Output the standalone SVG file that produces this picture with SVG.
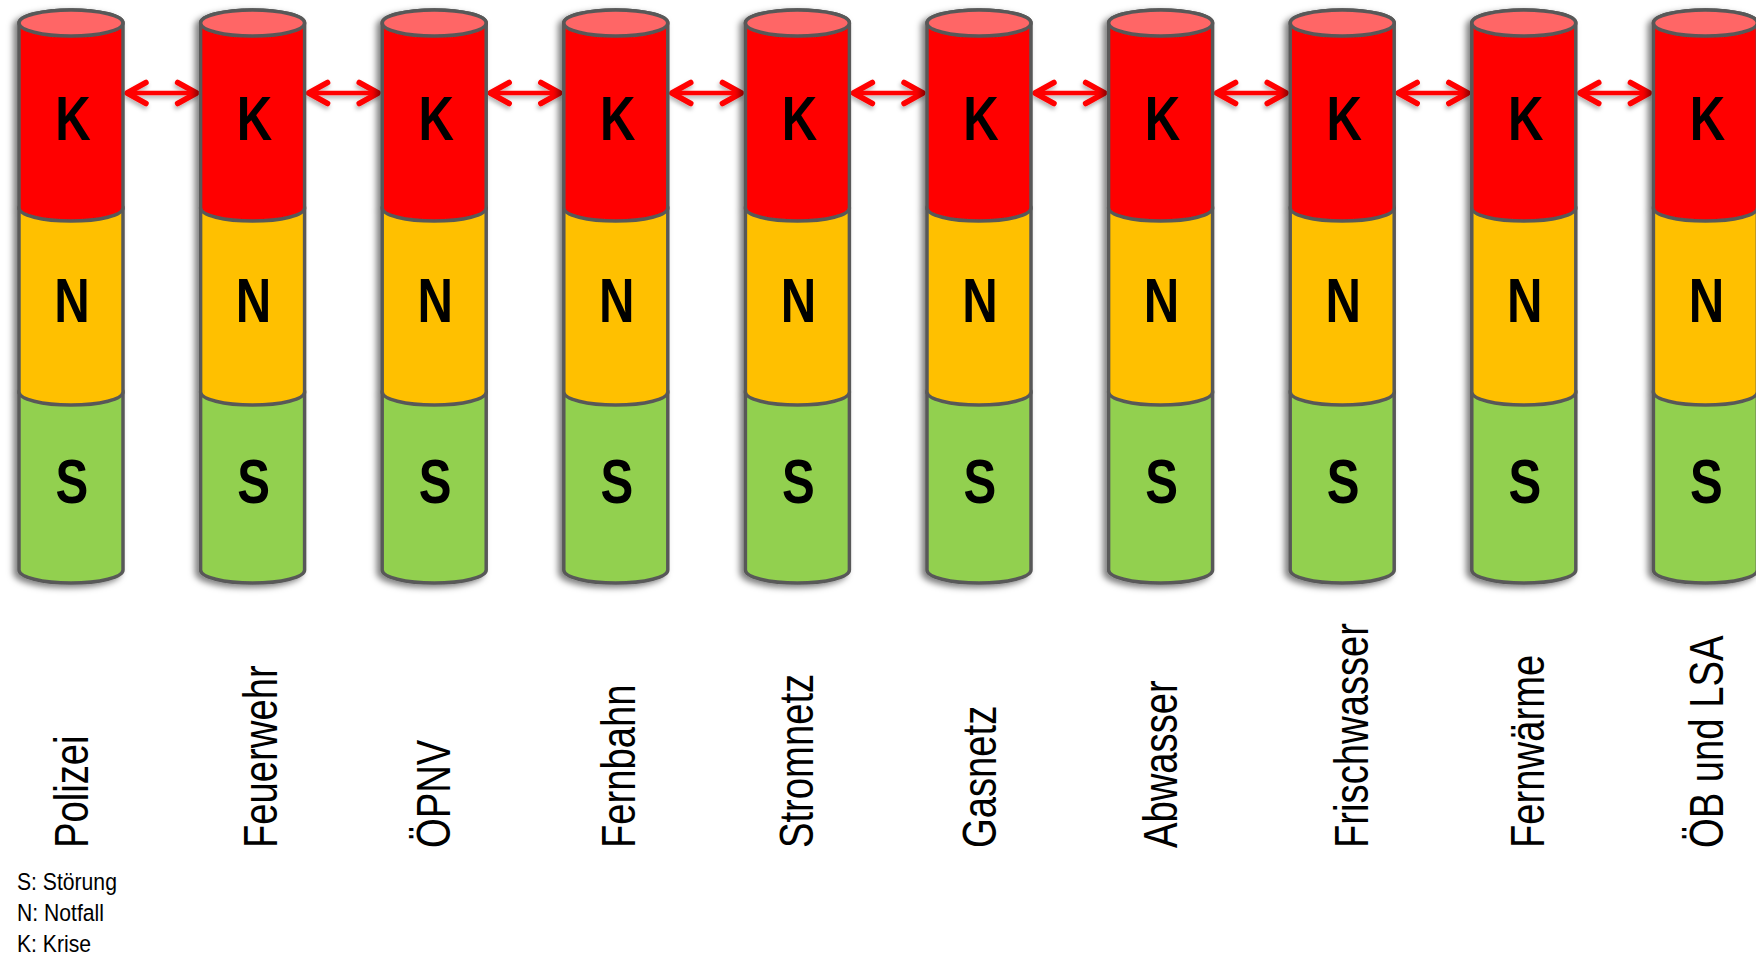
<svg xmlns="http://www.w3.org/2000/svg" xmlns:xlink="http://www.w3.org/1999/xlink" width="1756" height="957" viewBox="0 0 1756 957">
<style>
.seg{stroke:#595959;stroke-width:3.5;stroke-linejoin:round}
.kf{fill:#FF0000}
.tf{fill:#FF6666}
.nf{fill:#FFC000}
.sf{fill:#92D050}
.lt{font-family:"Liberation Sans",Arial,sans-serif;font-weight:bold;font-size:63px;fill:#000;text-anchor:middle}
.lbl{font-family:"Liberation Sans",Arial,sans-serif;font-size:49px;fill:#000}
.leg{font-family:"Liberation Sans",Arial,sans-serif;font-size:23.5px;fill:#000}
.arr{fill:none;stroke:#FF0000;stroke-width:4.5;stroke-linecap:round}
</style>
<defs>
<filter id="sh" x="-30%" y="-10%" width="160%" height="120%">
<feDropShadow dx="-4" dy="3" stdDeviation="3" flood-color="#000" flood-opacity="0.5"/>
</filter>
<filter id="ash" filterUnits="userSpaceOnUse" x="0" y="0" width="1756" height="200">
<feDropShadow dx="-1" dy="3" stdDeviation="2" flood-color="#000" flood-opacity="0.3"/>
</filter>
<marker id="chev" markerUnits="userSpaceOnUse" viewBox="-26 -15 30 30" refX="0" refY="0" markerWidth="30" markerHeight="30" orient="auto-start-reverse" overflow="visible">
<path d="M-19,-10.5 L0,0 L-19,10.5" fill="none" stroke="#FF0000" stroke-width="5.5" stroke-linecap="round" stroke-linejoin="round"/>
</marker>
<g id="cyl">
<path class="seg sf" d="M-52,392 V570 A52,13 0 0 0 52,570 V392 A52,13 0 0 0 -52,392 Z"/>
<path class="seg nf" d="M-52,208 V392 A52,13 0 0 0 52,392 V208 A52,13 0 0 0 -52,208 Z"/>
<path class="seg kf" d="M-52,23 V208 A52,13 0 0 0 52,208 V23 A52,13 0 0 0 -52,23 Z"/>
<ellipse class="seg tf" cx="0" cy="23" rx="52" ry="13"/>
</g>
</defs>
<rect width="1756" height="957" fill="#FFFFFF"/>

<g id="connectors" filter="url(#ash)">
<path class="arr" d="M127,93 H196.6" marker-start="url(#chev)" marker-end="url(#chev)"/>
<path class="arr" d="M308.6,93 H378.2" marker-start="url(#chev)" marker-end="url(#chev)"/>
<path class="arr" d="M490.2,93 H559.8" marker-start="url(#chev)" marker-end="url(#chev)"/>
<path class="arr" d="M671.8,93 H741.4" marker-start="url(#chev)" marker-end="url(#chev)"/>
<path class="arr" d="M853.4,93 H923" marker-start="url(#chev)" marker-end="url(#chev)"/>
<path class="arr" d="M1035,93 H1104.6" marker-start="url(#chev)" marker-end="url(#chev)"/>
<path class="arr" d="M1216.6,93 H1286.2" marker-start="url(#chev)" marker-end="url(#chev)"/>
<path class="arr" d="M1398.2,93 H1467.8" marker-start="url(#chev)" marker-end="url(#chev)"/>
<path class="arr" d="M1579.8,93 H1649.4" marker-start="url(#chev)" marker-end="url(#chev)"/>
</g>

<g id="node-polizei">
<use href="#cyl" xlink:href="#cyl" transform="translate(71,0)" filter="url(#sh)"/>
<text class="lt" transform="translate(73,140) scale(0.78,1)">K</text>
<text class="lt" transform="translate(72,322) scale(0.78,1)">N</text>
<text class="lt" transform="translate(72,503) scale(0.78,1)">S</text>
<text class="lbl" transform="translate(88,848) rotate(-90) scale(0.78,1)">Polizei</text>
</g>
<g id="node-feuerwehr">
<use href="#cyl" xlink:href="#cyl" transform="translate(252.6,0)" filter="url(#sh)"/>
<text class="lt" transform="translate(254.6,140) scale(0.78,1)">K</text>
<text class="lt" transform="translate(253.6,322) scale(0.78,1)">N</text>
<text class="lt" transform="translate(253.6,503) scale(0.78,1)">S</text>
<text class="lbl" transform="translate(277,848) rotate(-90) scale(0.78,1)">Feuerwehr</text>
</g>
<g id="node-oepnv">
<use href="#cyl" xlink:href="#cyl" transform="translate(434.2,0)" filter="url(#sh)"/>
<text class="lt" transform="translate(436.2,140) scale(0.78,1)">K</text>
<text class="lt" transform="translate(435.2,322) scale(0.78,1)">N</text>
<text class="lt" transform="translate(435.2,503) scale(0.78,1)">S</text>
<text class="lbl" transform="translate(450,848) rotate(-90) scale(0.78,1)">ÖPNV</text>
</g>
<g id="node-fernbahn">
<use href="#cyl" xlink:href="#cyl" transform="translate(615.8,0)" filter="url(#sh)"/>
<text class="lt" transform="translate(617.8,140) scale(0.78,1)">K</text>
<text class="lt" transform="translate(616.8,322) scale(0.78,1)">N</text>
<text class="lt" transform="translate(616.8,503) scale(0.78,1)">S</text>
<text class="lbl" transform="translate(635,848) rotate(-90) scale(0.78,1)">Fernbahn</text>
</g>
<g id="node-stromnetz">
<use href="#cyl" xlink:href="#cyl" transform="translate(797.4,0)" filter="url(#sh)"/>
<text class="lt" transform="translate(799.4,140) scale(0.78,1)">K</text>
<text class="lt" transform="translate(798.4,322) scale(0.78,1)">N</text>
<text class="lt" transform="translate(798.4,503) scale(0.78,1)">S</text>
<text class="lbl" transform="translate(813,848) rotate(-90) scale(0.78,1)">Stromnetz</text>
</g>
<g id="node-gasnetz">
<use href="#cyl" xlink:href="#cyl" transform="translate(979,0)" filter="url(#sh)"/>
<text class="lt" transform="translate(981,140) scale(0.78,1)">K</text>
<text class="lt" transform="translate(980,322) scale(0.78,1)">N</text>
<text class="lt" transform="translate(980,503) scale(0.78,1)">S</text>
<text class="lbl" transform="translate(996,848) rotate(-90) scale(0.78,1)">Gasnetz</text>
</g>
<g id="node-abwasser">
<use href="#cyl" xlink:href="#cyl" transform="translate(1160.6,0)" filter="url(#sh)"/>
<text class="lt" transform="translate(1162.6,140) scale(0.78,1)">K</text>
<text class="lt" transform="translate(1161.6,322) scale(0.78,1)">N</text>
<text class="lt" transform="translate(1161.6,503) scale(0.78,1)">S</text>
<text class="lbl" transform="translate(1177,848) rotate(-90) scale(0.78,1)">Abwasser</text>
</g>
<g id="node-frischwasser">
<use href="#cyl" xlink:href="#cyl" transform="translate(1342.2,0)" filter="url(#sh)"/>
<text class="lt" transform="translate(1344.2,140) scale(0.78,1)">K</text>
<text class="lt" transform="translate(1343.2,322) scale(0.78,1)">N</text>
<text class="lt" transform="translate(1343.2,503) scale(0.78,1)">S</text>
<text class="lbl" transform="translate(1368,848) rotate(-90) scale(0.78,1)">Frischwasser</text>
</g>
<g id="node-fernwaerme">
<use href="#cyl" xlink:href="#cyl" transform="translate(1523.8,0)" filter="url(#sh)"/>
<text class="lt" transform="translate(1525.8,140) scale(0.78,1)">K</text>
<text class="lt" transform="translate(1524.8,322) scale(0.78,1)">N</text>
<text class="lt" transform="translate(1524.8,503) scale(0.78,1)">S</text>
<text class="lbl" transform="translate(1544,848) rotate(-90) scale(0.78,1)">Fernwärme</text>
</g>
<g id="node-oeb-lsa">
<use href="#cyl" xlink:href="#cyl" transform="translate(1705.4,0)" filter="url(#sh)"/>
<text class="lt" transform="translate(1707.4,140) scale(0.78,1)">K</text>
<text class="lt" transform="translate(1706.4,322) scale(0.78,1)">N</text>
<text class="lt" transform="translate(1706.4,503) scale(0.78,1)">S</text>
<text class="lbl" transform="translate(1723,848) rotate(-90) scale(0.78,1)">ÖB und LSA</text>
</g>

<g id="legend">
<text class="leg" transform="translate(17,890) scale(0.9,1)">S: Störung</text>
<text class="leg" transform="translate(17,921) scale(0.9,1)">N: Notfall</text>
<text class="leg" transform="translate(17,952) scale(0.9,1)">K: Krise</text>
</g>
</svg>
